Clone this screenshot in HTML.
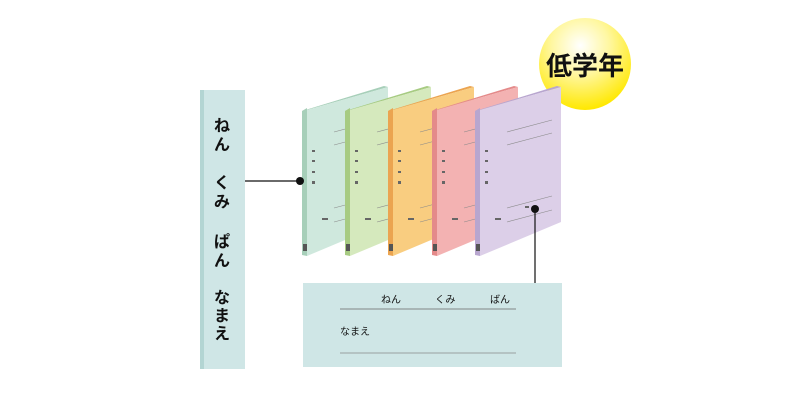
<!DOCTYPE html>
<html><head><meta charset="utf-8"><style>
body{margin:0;background:#fff;width:800px;height:410px;overflow:hidden;font-family:"Liberation Sans","Noto Sans CJK JP",sans-serif}
</style></head><body>
<svg width="800" height="410" viewBox="0 0 800 410" xmlns="http://www.w3.org/2000/svg" font-family="Liberation Sans, Noto Sans CJK JP, sans-serif">
<defs>
<radialGradient id="yg" cx="0.45" cy="0.3" r="0.7">
<stop offset="0" stop-color="#ffffff"/><stop offset="0.45" stop-color="#fff7a0"/><stop offset="1" stop-color="#ffe800"/>
</radialGradient>
<g id="fold">
<polygon points="0,111 5,108 5,256 0,255" fill="var(--s)"/>
<polygon points="0,111 82,86 86,87 5,110" fill="var(--s)"/>
<polygon points="5,110 86,87 86,222 5,256" fill="var(--f)"/>
<line x1="32" y1="132" x2="77" y2="120" stroke="#8a8a8a" stroke-width="0.6"/>
<line x1="32" y1="145" x2="77" y2="133" stroke="#8a8a8a" stroke-width="0.6"/>
<line x1="32" y1="208" x2="77" y2="196" stroke="#8a8a8a" stroke-width="0.6"/>
<line x1="32" y1="222" x2="77" y2="210" stroke="#8a8a8a" stroke-width="0.6"/>
<rect x="10" y="150" width="3" height="2" fill="#666"/><rect x="10" y="160" width="3" height="2" fill="#666"/>
<rect x="10" y="171" width="3" height="2" fill="#666"/><rect x="10" y="181" width="3" height="3" fill="#666"/>
<rect x="20" y="218" width="6" height="2" fill="#666"/>
<rect x="50" y="206" width="4" height="2" fill="#666"/>
<rect x="1" y="244" width="4" height="7" fill="#555"/>
</g>
</defs>
<circle cx="585" cy="64" r="46" fill="url(#yg)"/>
<text x="585" y="75" text-anchor="middle" font-size="26" font-weight="bold" fill="#111">低学年</text>

<rect x="200" y="90" width="45" height="279" fill="#cfe6e6"/>
<rect x="200" y="90" width="4" height="279" fill="#b3d5d3"/>
<g font-size="16" fill="#111" text-anchor="middle" font-weight="bold">
<text x="222" y="131">ね</text><text x="222" y="150">ん</text>
<text x="222" y="188">く</text><text x="222" y="207">み</text>
<text x="222" y="247">ぱ</text><text x="222" y="266">ん</text>
<text x="222" y="303">な</text><text x="222" y="321">ま</text><text x="222" y="339">え</text>
</g>

<g transform="translate(302,0)" style="--s:#a7cfb9;--f:#cfe8dd"><use href="#fold"/></g>
<g transform="translate(345,0)" style="--s:#a7cb82;--f:#d5e9bd"><use href="#fold"/></g>
<g transform="translate(388,0)" style="--s:#eba450;--f:#f9cd80"><use href="#fold"/></g>
<g transform="translate(432,0)" style="--s:#e48a8a;--f:#f3b2b2"><use href="#fold"/></g>
<g transform="translate(475,0)" style="--s:#b8a6cf;--f:#dccfe8"><use href="#fold"/></g>

<line x1="245" y1="181" x2="300" y2="181" stroke="#111" stroke-width="1.2"/>
<circle cx="300" cy="181" r="4" fill="#111"/>
<line x1="535" y1="209" x2="535" y2="283" stroke="#111" stroke-width="1.2"/>
<circle cx="535" cy="209" r="4" fill="#111"/>

<rect x="303" y="283" width="259" height="84" fill="#cfe6e6"/>
<g font-size="10" fill="#111">
<text x="381" y="303">ねん</text><text x="435" y="303">くみ</text><text x="490" y="303">ばん</text>
<text x="340" y="335">なまえ</text>
</g>
<line x1="340" y1="309" x2="516" y2="309" stroke="#666" stroke-width="0.8"/>
<line x1="340" y1="353" x2="516" y2="353" stroke="#888" stroke-width="0.8"/>
</svg>
</body></html>
